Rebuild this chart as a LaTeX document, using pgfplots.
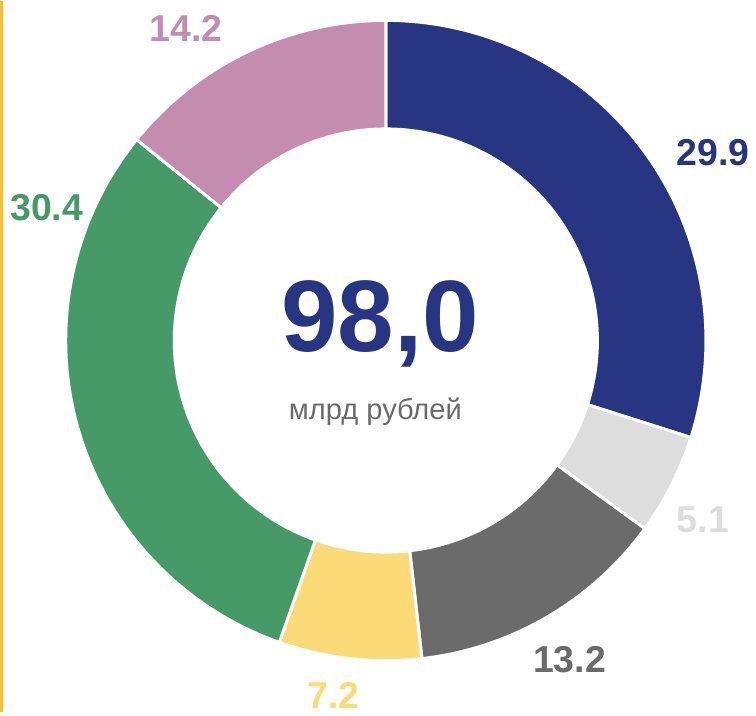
\documentclass[border=0pt]{standalone}
\usepackage{fontspec}
\setmainfont{Liberation Sans}
\usepackage{pgfplots}
\pgfplotsset{compat=1.18}
\usepackage{pgfplotstable}
\usetikzlibrary{calc}

\definecolor{c1}{HTML}{283583}
\definecolor{c2}{HTML}{DDDDDD}
\definecolor{c3}{HTML}{6B6B6B}
\definecolor{c4}{HTML}{FCDA78}
\definecolor{c5}{HTML}{469A67}
\definecolor{c6}{HTML}{C48DAF}
\definecolor{edge}{HTML}{FBC02D}

% share, colour, label position (x, y in pixel units of the picture)
\pgfplotstableread{
value col lx  ly
29.9  c1  716 562
5.1   c2  706 193
13.2  c3  572 53
7.2   c4  335 17
30.4  c5  47  507
14.2  c6  187 687
}\shares

\begin{document}
\begin{tikzpicture}
\begin{axis}[
    scale only axis,
    width=378pt, height=357pt,
    xmin=0, xmax=756, ymin=0, ymax=714,
    hide axis,
    clip=false,
]
\coordinate (c) at (axis cs:387.5,373.5);
\draw[edge, line width=1.5pt] (axis cs:1.5,0) -- (axis cs:1.5,714);

\pgfplotstablegetrowsof{\shares}
\pgfmathtruncatemacro\lastrow{\pgfplotsretval-1}
\def\acc{90}
\pgfplotsforeachungrouped \i in {0,...,\lastrow}{
  \pgfplotstablegetelem{\i}{value}\of{\shares}\let\v\pgfplotsretval
  \pgfplotstablegetelem{\i}{col}\of{\shares}\let\col\pgfplotsretval
  \pgfplotstablegetelem{\i}{lx}\of{\shares}\let\lx\pgfplotsretval
  \pgfplotstablegetelem{\i}{ly}\of{\shares}\let\ly\pgfplotsretval
  \pgfmathsetmacro\aend{\acc-3.6*\v}
  \edef\temp{\noexpand\fill[\col, draw=white, line width=1.5pt]
    ($(c)+(\acc:160.75pt)$) arc[start angle=\acc, end angle=\aend, radius=160.75pt]
    -- ($(c)+(\aend:106.25pt)$) arc[start angle=\aend, end angle=\acc, radius=106.25pt]
    -- cycle;
    \noexpand\node[text=\col, font=\noexpand\bfseries\noexpand\fontsize{18.8pt}{20pt}\noexpand\selectfont]
      at (axis cs:\lx,\ly) {\v};}
  \temp
  \let\acc\aend
}

\node[c1, anchor=base, font=\bfseries\fontsize{51pt}{56pt}\selectfont] at (axis cs:382,362) {98,0};
\node[c3, anchor=base, font=\fontsize{14.6pt}{16pt}\selectfont] at (axis cs:377,294) {млрд рублей};
\end{axis}
\end{tikzpicture}
\end{document}
